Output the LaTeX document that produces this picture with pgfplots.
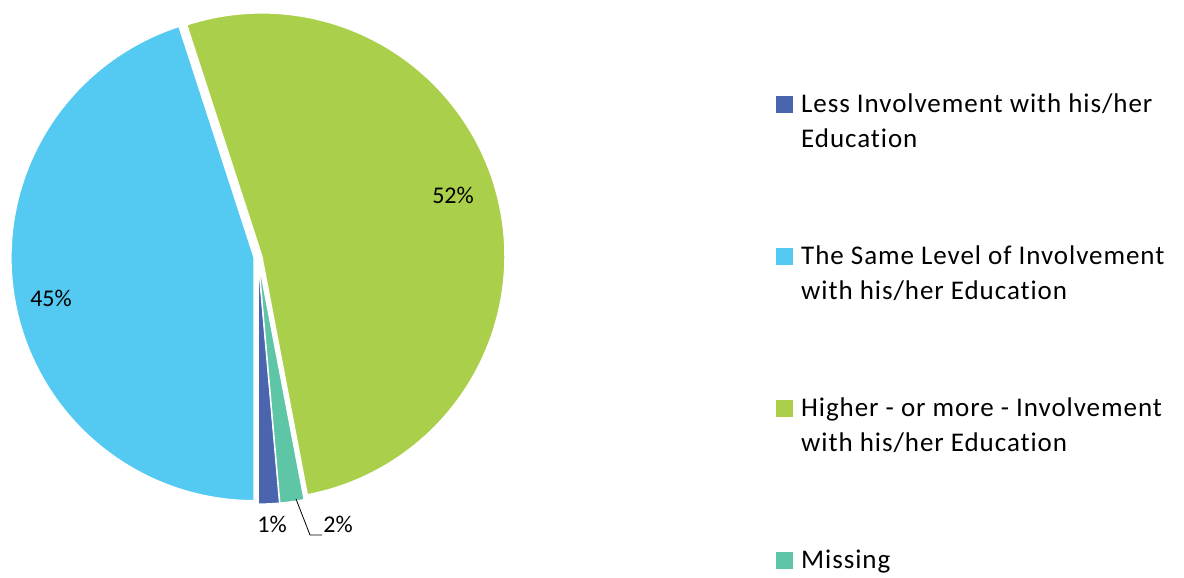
\documentclass[border=0pt]{standalone}
\usepackage{fontspec}
\setmainfont{Carlito}
\newfontfamily\legfont[LetterSpace=3.5,RawFeature=-liga]{Carlito}
\usepackage{pgfplots}
\usepackage{pgfplotstable}
\pgfplotsset{compat=1.18}
\definecolor{cLess}{HTML}{4A64AE}
\definecolor{cSame}{HTML}{54C9F1}
\definecolor{cHigher}{HTML}{AAD04B}
\definecolor{cMissing}{HTML}{5EC5A7}
\pgfplotstableread{
name value
Less 1.4
Same 45.0
Higher 52.0
Missing 1.6
}\piedata
\newcommand\twoline[2]{\vtop{\hbox{\strut #1}\hbox{\strut #2}}}
\newcommand\oneline[1]{\hbox{\strut #1}}
\begin{document}
\begin{tikzpicture}
\pgfplotstablegetelem{0}{value}\of\piedata \let\vLess\pgfplotsretval
\pgfplotstablegetelem{1}{value}\of\piedata \let\vSame\pgfplotsretval
\pgfplotstablegetelem{2}{value}\of\piedata \let\vHigher\pgfplotsretval
\pgfplotstablegetelem{3}{value}\of\piedata \let\vMissing\pgfplotsretval
\pgfmathsetmacro{\aA}{-90}
\pgfmathsetmacro{\aB}{\aA+3.6*\vLess}
\pgfmathsetmacro{\aC}{\aB+3.6*\vMissing}
\pgfmathsetmacro{\aD}{\aC+3.6*\vHigher}
\pgfmathsetmacro{\aE}{\aD+3.6*\vSame}
\def\cx{258}\def\cy{321}\def\R{243}\def\ex{4}
\newcommand\pieslice[4]{%
 \pgfmathsetmacro{\midang}{(#1+#2)/2}%
 \pgfmathsetmacro{\ox}{\cx+\ex*cos(\midang)}%
 \pgfmathsetmacro{\oy}{\cy+\ex*sin(\midang)}%
 \edef\doslice{\noexpand\addplot[fill=#3, draw=white, line width=1.2pt, domain=#1:#2, samples=120, variable=\noexpand\t] ({\ox+\R*cos(\noexpand\t)},{\oy+\R*sin(\noexpand\t)}) -- (axis cs:\ox,\oy) -- cycle;}%
 \doslice
 \addlegendentry{#4}%
}
\begin{axis}[hide axis, scale only axis, width=1184pt, height=578pt,
  xmin=0, xmax=1184, ymin=0, ymax=578, clip=false,
  legend style={at={(axis cs:776,490)}, anchor=north west, draw=none, fill=none,
    inner sep=0pt, font=\legfont\fontsize{27}{35}\selectfont, row sep=126pt,
    nodes={inner sep=0pt},
    cells={anchor=base west},
    /tikz/every odd column/.append style={column sep=8pt}},
  legend image code/.code={\fill[#1,draw=none] (0pt,0pt) rectangle (17pt,17pt);},
]
\pieslice{\aA}{\aB}{cLess}{\twoline{Less Involvement with his/her}{Education}}
\pieslice{\aD}{\aE}{cSame}{\twoline{The Same Level of Involvement}{with his/her Education}}
\pieslice{\aC}{\aD}{cHigher}{\twoline{Higher - or more - Involvement}{with his/her Education}}
\pieslice{\aB}{\aC}{cMissing}{\oneline{Missing}}
\node[font=\fontsize{24}{28}\selectfont] at (axis cs:453,383) {52\%};
\node[font=\fontsize{24}{28}\selectfont] at (axis cs:51,280) {45\%};
\node[font=\fontsize{24}{28}\selectfont] at (axis cs:272,54) {1\%};
\node[font=\fontsize{24}{28}\selectfont] at (axis cs:338,54) {2\%};
\draw[black, line width=0.8pt] (axis cs:296,79) -- (axis cs:310,43) -- (axis cs:322,43);
\end{axis}
\pgfresetboundingbox
\useasboundingbox (current axis.south west) rectangle (current axis.north east);
\end{tikzpicture}
\end{document}
